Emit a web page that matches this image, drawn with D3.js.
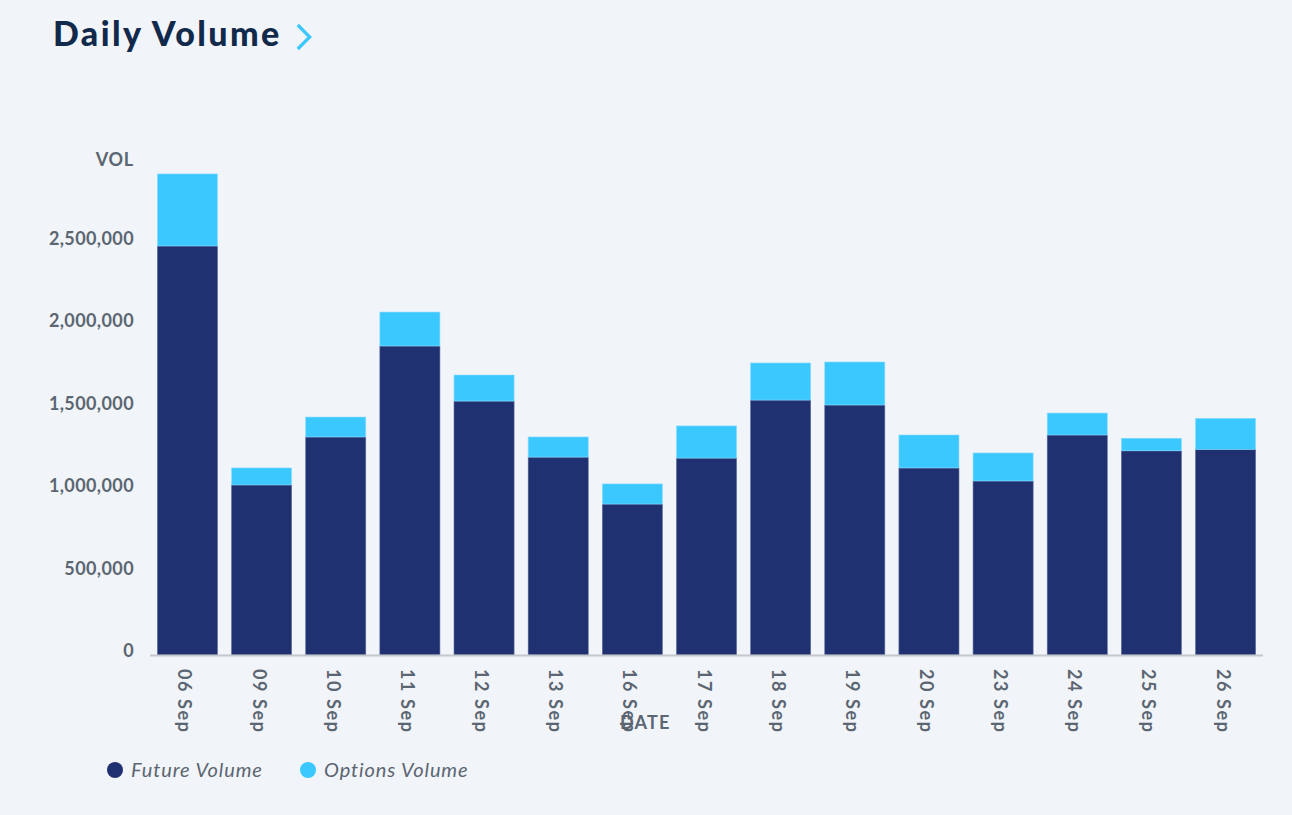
<!DOCTYPE html>
<html>
<head>
<meta charset="utf-8">
<script src="https://cdn.jsdelivr.net/npm/d3@7"></script>
<style>
  body { margin: 0; background: #f1f4f8; }
  svg { display: block; }
  text { font-family: Lato, "Open Sans", sans-serif; }
</style>
</head>
<body>
<svg width="1292" height="815"></svg>
<script>
// chart data
var dates = ["06 Sep", "09 Sep", "10 Sep", "11 Sep", "12 Sep", "13 Sep", "16 Sep", "17 Sep",
             "18 Sep", "19 Sep", "20 Sep", "23 Sep", "24 Sep", "25 Sep", "26 Sep"];
var futureVolume = [2482000, 1032000, 1323000, 1875000, 1541000, 1201000, 916000, 1195000,
                    1547000, 1517000, 1135000, 1056000, 1335000, 1239000, 1248000];
var optionsVolume = [437000, 103000, 121000, 206000, 158000, 122000, 122000, 195000,
                     225000, 261000, 200000, 170000, 133000, 76000, 188000];
var yTicks = [0, 500000, 1000000, 1500000, 2000000, 2500000];
var seriesNames = ["Future Volume", "Options Volume"];
var colors = ["#1f3171", "#3bc8ff"];

(function() {
    var svg = d3.select("svg");

    var left = 150, right = 1263, bottom = 655;
    var labelColor = "#5b6672";

    var x = d3.scaleBand()
        .domain(dates)
        .range([left, right])
        .paddingInner(0.19)
        .paddingOuter(0.1);

    var y = d3.scaleLinear()
        .domain([0, 3000000])
        .range([bottom, bottom - 3 * 164.8]);

    // title
    var title = svg.append("text")
        .attr("x", 53)
        .attr("y", 46)
        .style("font-size", "34px")
        .style("font-weight", "900")
        .style("letter-spacing", "2.4px")
        .style("fill", "#112a4b")
        .text("Daily Volume");
    var tx = 53 + title.node().getComputedTextLength();
    svg.append("path")
        .attr("d", "M" + (tx + 16) + ",25 L" + (tx + 28) + ",37 L" + (tx + 16) + ",49")
        .style("fill", "none")
        .style("stroke", "#3bc8ff")
        .style("stroke-width", 3.2);

    // stacked bars
    var rows = dates.map(function(d, i) {
        return { date: d, future: futureVolume[i], options: optionsVolume[i] };
    });
    var layers = d3.stack().keys(["future", "options"])(rows);

    svg.selectAll("g.layer")
        .data(layers)
        .enter().append("g")
        .attr("class", "layer")
        .style("fill", function(d, i) { return colors[i]; })
        .style("stroke", function(d, i) { return i === 0 ? "#5b6b9c" : "#8adcff"; })
        .style("stroke-width", 0.6)
        .selectAll("rect")
        .data(function(d) { return d; })
        .enter().append("rect")
        .attr("x", function(d) { return x(d.data.date); })
        .attr("width", x.bandwidth())
        .attr("y", function(d) { return y(d[1]); })
        .attr("height", function(d) { return y(d[0]) - y(d[1]); });

    // x axis line
    svg.append("line")
        .attr("x1", left).attr("x2", right)
        .attr("y1", bottom + 0.5).attr("y2", bottom + 0.5)
        .style("stroke", "#c4c7cc")
        .style("stroke-width", 2);

    // y tick labels
    svg.selectAll("text.ytick")
        .data(yTicks)
        .enter().append("text")
        .attr("class", "ytick")
        .attr("x", 134)
        .attr("y", function(d) { return y(d) + 2; })
        .attr("text-anchor", "end")
        .style("font-size", "18px")
        .style("font-weight", "bold")
        .style("letter-spacing", "0.4px")
        .style("fill", labelColor)
        .text(function(d) { return d3.format(",")(d); });

    svg.append("text")
        .attr("x", 134).attr("y", 166)
        .attr("text-anchor", "end")
        .style("font-size", "18px")
        .style("font-weight", "bold")
        .style("letter-spacing", "0.8px")
        .style("fill", labelColor)
        .text("VOL");

    // x tick labels, rotated
    svg.selectAll("text.xtick")
        .data(dates)
        .enter().append("text")
        .attr("class", "xtick")
        .attr("transform", function(d) {
            return "translate(" + (x(d) + x.bandwidth() / 2 - 9) + "," + (bottom + 14) + ") rotate(90)";
        })
        .style("font-size", "18px")
        .style("font-weight", "bold")
        .style("letter-spacing", "1.6px")
        .style("fill", labelColor)
        .text(function(d) { return d; });

    svg.append("text")
        .attr("x", 620).attr("y", 729)
        .style("font-size", "18px")
        .style("font-weight", "bold")
        .style("letter-spacing", "1.2px")
        .style("fill", labelColor)
        .text("DATE");

    // legend
    var legendX = [115, 308];
    seriesNames.forEach(function(name, i) {
        svg.append("circle")
            .attr("cx", legendX[i]).attr("cy", 770).attr("r", 8)
            .style("fill", colors[i]);
        svg.append("text")
            .attr("x", legendX[i] + 16).attr("y", 777)
            .style("font-size", "20px")
            .style("font-style", "italic")
            .style("letter-spacing", "0.9px")
            .style("fill", labelColor)
            .text(name);
    });
})();
</script>
</body>
</html>
